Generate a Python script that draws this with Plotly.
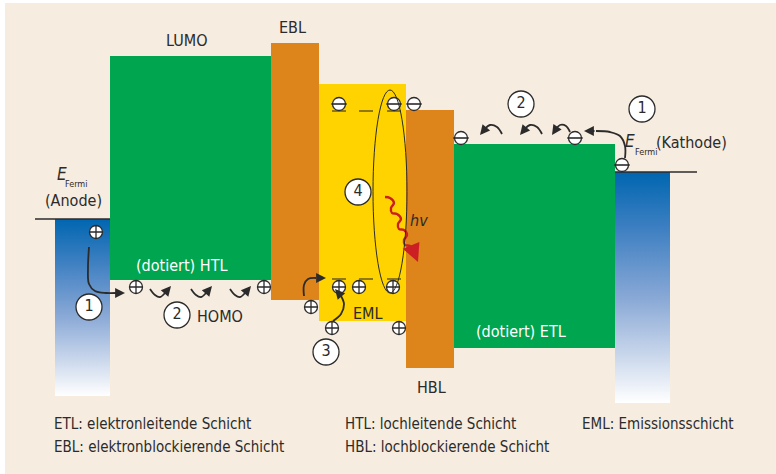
import plotly.graph_objects as go

# ---------------- data (diagram coordinates: x to the right, y downward = lower energy) ----------------
layer_names = ["HTL", "EBL", "EML", "HBL", "ETL"]
layer_left = [110, 271, 319, 406, 454]
layer_right = [271, 319, 406, 454, 615]
layer_lumo = [56, 43, 84, 110, 144]
layer_homo = [280, 300, 321, 368, 348]
layer_colors = ["#00A550", "#DD841A", "#FFD300", "#DD841A", "#00A550"]

electrode_names = ["Anode", "Kathode"]
electrode_left = [55, 615]
electrode_right = [110, 670]
electrode_fermi = [219, 172]
electrode_bottom = [396, 403]
fermi_line_x = [[35, 110], [615, 697]]

holes_x = [96, 136, 264, 311, 339, 359, 393, 332, 399]
holes_y = [232, 287, 287, 307, 287, 287, 287, 328, 328]
electrons_x = [339, 394, 414, 461, 575, 622]
electrons_y = [104, 104, 104, 138, 138, 165]

eml_levels_x = [[332, 346], [359, 373], [387, 401]]
eml_levels_y = [111, 279]

step_labels = ["1", "2", "3", "4", "2", "1"]
step_x = [89, 177, 326, 358, 521, 642]
step_y = [307, 315, 352, 192, 104, 109]

# curved transport arrows: path points, then arrow tip
arrow_paths = [
    ([89, 88, 89, 95, 106, 116], [247, 268, 284, 291, 293, 293], (125, 293)),
    ([150, 155, 160, 165], [289, 295, 297, 293], (171, 286)),
    ([191, 196, 201, 206], [289, 295, 297, 293], (212, 286)),
    ([230, 235, 240, 245], [289, 295, 297, 293], (251, 286)),
    ([502, 497, 490, 485], [134, 127, 125, 129], (480, 135)),
    ([542, 537, 530, 525], [134, 127, 125, 129], (520, 135)),
    ([570, 566, 560, 556], [132, 126, 125, 129], (552, 135)),
    ([625, 625, 620, 610, 596], [158, 146, 136, 132, 131], (584, 131)),
    ([304, 304, 308, 316], [296, 285, 279, 278], (326, 278)),
    ([333, 341, 344, 341], [321, 314, 304, 296], (335, 289)),
]

wave_x = [385, 390, 394, 391, 392, 397, 401, 398, 399, 404, 407, 404, 405, 410, 413]
wave_y = [197, 198, 203, 208, 213, 214, 219, 224, 229, 230, 235, 240, 245, 246, 250]
wave_tip = (418, 262)

exciton_box = (373, 407, 90, 293)

legend_lines = [
    ("ETL: elektronleitende Schicht", 52, 424),
    ("EBL: elektronblockierende Schicht", 52, 447),
    ("HTL: lochleitende Schicht", 343, 424),
    ("HBL: lochblockierende Schicht", 343, 447),
    ("EML: Emissionsschicht", 580, 424),
]

FONT = "DejaVu Sans Condensed, Liberation Sans Narrow, Arial Narrow, sans-serif"
DARK = "#2b2b2b"
W, H = 776, 474

fig = go.Figure()
shapes = []
annotations = []

# background panel
shapes.append(dict(type="rect", xref="x", yref="y", x0=5, x1=W, y0=3, y1=H,
                   fillcolor="#F6ECDF", line=dict(width=0), layer="below"))

# layers
for name, x0, x1, top, bot, col in zip(layer_names, layer_left, layer_right, layer_lumo, layer_homo, layer_colors):
    shapes.append(dict(type="rect", xref="x", yref="y", x0=x0, x1=x1, y0=top, y1=bot,
                       fillcolor=col, line=dict(width=0), layer="below"))

# electrodes with gradient
for name, x0, x1, top, bot in zip(electrode_names, electrode_left, electrode_right, electrode_fermi, electrode_bottom):
    fig.add_trace(go.Scatter(
        x=[x0, x1, x1, x0, x0], y=[top, top, bot, bot, top], mode="lines",
        line=dict(width=0), fill="toself", hoverinfo="skip", showlegend=False,
        fillgradient=dict(type="vertical", start=top, stop=bot,
                          colorscale=[[0, "#0066B0"], [0.25, "#3F80C2"], [0.55, "#8AA9D6"],
                                      [0.8, "#CBD8EC"], [1, "#FFFFFF"]])))

# Fermi lines
for (xa, xb), yf in zip(fermi_line_x, electrode_fermi):
    fig.add_trace(go.Scatter(x=[xa, xb], y=[yf, yf], mode="lines",
                             line=dict(color=DARK, width=1.3), hoverinfo="skip", showlegend=False))

# EML energy level marks
for yl in eml_levels_y:
    for xa, xb in eml_levels_x:
        fig.add_trace(go.Scatter(x=[xa, xb], y=[yl, yl], mode="lines",
                                 line=dict(color="#6B5A1E", width=1.5), hoverinfo="skip", showlegend=False))

# exciton ellipse
ex0, ex1, ey0, ey1 = exciton_box
shapes.append(dict(type="circle", xref="x", yref="y", x0=ex0, x1=ex1, y0=ey0, y1=ey1,
                   line=dict(color=DARK, width=1), fillcolor="rgba(0,0,0,0)"))

# curved arrows
for px, py, tip in arrow_paths:
    fig.add_trace(go.Scatter(x=px, y=py, mode="lines", line=dict(color=DARK, width=1.8, shape="spline"),
                             hoverinfo="skip", showlegend=False))
    annotations.append(dict(x=tip[0], y=tip[1], ax=px[-1], ay=py[-1], xref="x", yref="y",
                            axref="x", ayref="y", showarrow=True, text="", arrowhead=2,
                            arrowsize=1.1, arrowwidth=1.8, arrowcolor=DARK, standoff=0))

# red photon wave
fig.add_trace(go.Scatter(x=wave_x, y=wave_y, mode="lines", line=dict(color="#CC1F24", width=2.4, shape="spline"),
                         hoverinfo="skip", showlegend=False))
annotations.append(dict(x=wave_tip[0], y=wave_tip[1], ax=wave_x[-1], ay=wave_y[-1], xref="x", yref="y",
                        axref="x", ayref="y", showarrow=True, text="", arrowhead=2,
                        arrowsize=1.5, arrowwidth=2.4, arrowcolor="#CC1F24", standoff=0))

# holes (+) and electrons (-)
fig.add_trace(go.Scatter(x=holes_x, y=holes_y, mode="markers", hoverinfo="skip", showlegend=False,
                         marker=dict(symbol="circle-cross", size=13, color="white",
                                     line=dict(color=DARK, width=1.3))))
fig.add_trace(go.Scatter(x=electrons_x, y=electrons_y, mode="markers", hoverinfo="skip", showlegend=False,
                         marker=dict(symbol="circle", size=13, color="white",
                                     line=dict(color=DARK, width=1.3))))
fig.add_trace(go.Scatter(x=electrons_x, y=electrons_y, mode="markers", hoverinfo="skip", showlegend=False,
                         marker=dict(symbol="line-ew", size=11, color=DARK,
                                     line=dict(color=DARK, width=1.6))))

# numbered steps
fig.add_trace(go.Scatter(x=step_x, y=step_y, mode="markers+text", text=step_labels,
                         textposition="middle center", hoverinfo="skip", showlegend=False,
                         textfont=dict(family=FONT, size=16, color=DARK),
                         marker=dict(symbol="circle", size=26, color="white",
                                     line=dict(color=DARK, width=1.3))))


def label(text, x, y, size=16, color=DARK, xanchor="center", italic=False):
    if italic:
        text = "<i>" + text + "</i>"
    annotations.append(dict(x=x, y=y, xref="x", yref="y", text=text, showarrow=False,
                            xanchor=xanchor, yanchor="middle",
                            font=dict(family=FONT, size=size, color=color)))


label("LUMO", 187, 40)
label("EBL", 292, 27)
label("HBL", 431, 387)
label("(dotiert) HTL", 181, 265, color="white")
label("(dotiert) ETL", 521, 331, color="white")
label("EML", 368, 313)
label("HOMO", 220, 316)
label("hv", 419, 220, italic=True)
label("E", 62, 174, size=17, italic=True)
label("Fermi", 76, 184, size=9)
label("(Anode)", 73, 200)
label("E", 630, 141, size=17, italic=True)
label("Fermi", 646, 152, size=9)
label("(Kathode)", 691, 142)
for txt, lx, ly in legend_lines:
    label(txt, lx, ly, size=15, xanchor="left")

fig.update_layout(
    width=W, height=H, margin=dict(l=0, r=0, t=0, b=0),
    paper_bgcolor="white", plot_bgcolor="white",
    xaxis=dict(range=[0, W], visible=False, fixedrange=True),
    yaxis=dict(range=[H, 0], visible=False, fixedrange=True),
    shapes=shapes, annotations=annotations, showlegend=False,
)

fig.write_html("out.html", config={"displayModeBar": False},
               post_script="document.body.style.margin='0px';document.body.style.overflow='hidden';")
